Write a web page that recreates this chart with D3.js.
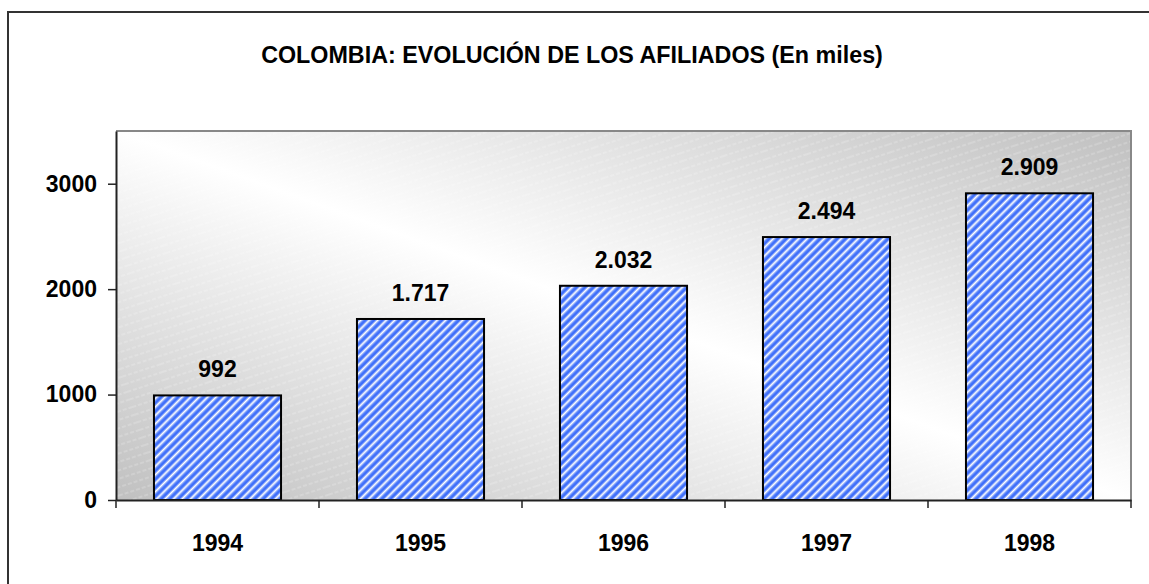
<!DOCTYPE html>
<head>
  <meta charset="utf-8">
  <script src="https://d3js.org/d3.v7.min.js"></script>
  <style>
    body { margin:0; background:#fff; }
    text { font-family: Arial, "Liberation Sans", sans-serif; font-weight: bold; fill: #000; }
  </style>
</head>
<body>
<script>
  // data
  var years = ["1994", "1995", "1996", "1997", "1998"];
  var afiliados = [992, 1717, 2032, 2494, 2909];
  var yTicks = [0, 1000, 2000, 3000];
  var title = "COLOMBIA: EVOLUCIÓN DE LOS AFILIADOS (En miles)";

  var width = 1149, height = 584;
  var plot = {left: 116, right: 1131, top: 131, bottom: 500};

  var svg = d3.select("body").append("svg")
    .attr("width", width)
    .attr("height", height);

  var defs = svg.append("defs");

  // gray -> white -> gray diagonal background
  var grad = defs.append("linearGradient")
    .attr("id", "bg")
    .attr("x1", 0).attr("y1", 1).attr("x2", 1).attr("y2", 0);
  grad.append("stop").attr("offset", "0%").attr("stop-color", "#c0c0c0");
  grad.append("stop").attr("offset", "50%").attr("stop-color", "#ffffff");
  grad.append("stop").attr("offset", "100%").attr("stop-color", "#c0c0c0");

  // faint dashed texture on the background
  var tex = defs.append("pattern")
    .attr("id", "tex")
    .attr("patternUnits", "userSpaceOnUse")
    .attr("width", 40).attr("height", 8)
    .attr("patternTransform", "rotate(-18)");
  tex.append("line")
    .attr("x1", 0).attr("y1", 4).attr("x2", 40).attr("y2", 4)
    .attr("stroke", "#fff").attr("stroke-opacity", 0.35)
    .attr("stroke-width", 1).attr("stroke-dasharray", "4,2");

  // blue/white stripes for the bars
  var stripes = defs.append("pattern")
    .attr("id", "stripes")
    .attr("patternUnits", "userSpaceOnUse")
    .attr("width", 6).attr("height", 6)
    .attr("patternTransform", "rotate(45)");
  stripes.append("rect")
    .attr("width", 6).attr("height", 6).attr("fill", "#3f6ffa");
  stripes.append("rect")
    .attr("x", 0.7).attr("width", 1.9).attr("height", 6).attr("fill", "#ffffff");
  stripes.append("rect")
    .attr("x", 0).attr("width", 0.7).attr("height", 6).attr("fill", "#a3baf9");
  stripes.append("rect")
    .attr("x", 2.6).attr("width", 0.7).attr("height", 6).attr("fill", "#a3baf9");

  // outer frame
  svg.append("rect")
    .attr("x", 8).attr("y", 12)
    .attr("width", width).attr("height", height)
    .attr("fill", "none").attr("stroke", "#333").attr("stroke-width", 2);

  svg.append("text")
    .attr("x", 572).attr("y", 63)
    .attr("text-anchor", "middle")
    .style("font-size", "23.3px")
    .text(title);

  var x = d3.scaleBand()
    .domain(years)
    .range([plot.left, plot.right])
    .paddingInner(0.374)
    .paddingOuter(0.187);

  var y = d3.scaleLinear()
    .domain([0, 3500])
    .range([plot.bottom, plot.top]);

  // plot area
  svg.append("rect")
    .attr("x", plot.left).attr("y", plot.top)
    .attr("width", plot.right - plot.left).attr("height", plot.bottom - plot.top)
    .attr("fill", "url(#bg)");
  svg.append("rect")
    .attr("x", plot.left).attr("y", plot.top)
    .attr("width", plot.right - plot.left).attr("height", plot.bottom - plot.top)
    .attr("fill", "url(#tex)");
  svg.append("path")
    .attr("d", "M" + plot.left + "," + plot.top + "H" + plot.right + "V" + plot.bottom)
    .attr("fill", "none").attr("stroke", "#888").attr("stroke-width", 2);

  var fmt = d3.formatLocale({decimal: ",", thousands: ".", grouping: [3], currency: ["$", ""]}).format(",");

  var data = years.map(function(d, i) { return {year: d, value: afiliados[i]}; });

  svg.selectAll("rect.bar")
    .data(data)
    .enter().append("rect")
    .attr("class", "bar")
    .attr("x", function(d) { return x(d.year); })
    .attr("y", function(d) { return y(d.value); })
    .attr("width", x.bandwidth())
    .attr("height", function(d) { return y(0) - y(d.value); })
    .attr("fill", "url(#stripes)")
    .attr("stroke", "#000").attr("stroke-width", 2);

  svg.selectAll("text.val")
    .data(data)
    .enter().append("text")
    .attr("class", "val")
    .attr("x", function(d) { return x(d.year) + x.bandwidth() / 2; })
    .attr("y", function(d) { return y(d.value) - 18; })
    .attr("text-anchor", "middle")
    .style("font-size", "23px")
    .text(function(d) { return fmt(d.value); });

  // y axis
  var yAxis = svg.append("g")
    .attr("transform", "translate(" + plot.left + ",0)")
    .call(d3.axisLeft(y).tickValues(yTicks).tickFormat(d3.format("d"))
      .tickSize(8).tickSizeOuter(0).tickPadding(11));
  yAxis.select(".domain").attr("stroke", "#222").attr("stroke-width", 2);
  yAxis.selectAll(".tick line").attr("stroke", "#222").attr("stroke-width", 1.5);
  yAxis.selectAll(".tick text").style("font-size", "23px").attr("fill", "#000");

  // x axis, ticks at category boundaries
  var xAxis = svg.append("g")
    .attr("transform", "translate(0," + plot.bottom + ")")
    .call(d3.axisBottom(x).tickSize(0).tickPadding(35));
  xAxis.select(".domain").attr("stroke", "#222").attr("stroke-width", 2);
  xAxis.selectAll(".tick text").style("font-size", "23px").attr("fill", "#000");
  var bounds = years.map(function(d) { return x(d) - x.step() * x.paddingOuter(); }).concat([plot.right]);
  xAxis.selectAll("line.sep")
    .data(bounds)
    .enter().append("line")
    .attr("class", "sep")
    .attr("x1", function(d) { return d; }).attr("x2", function(d) { return d; })
    .attr("y1", 0).attr("y2", 8)
    .attr("stroke", "#222").attr("stroke-width", 1.5);
</script>
</body>
